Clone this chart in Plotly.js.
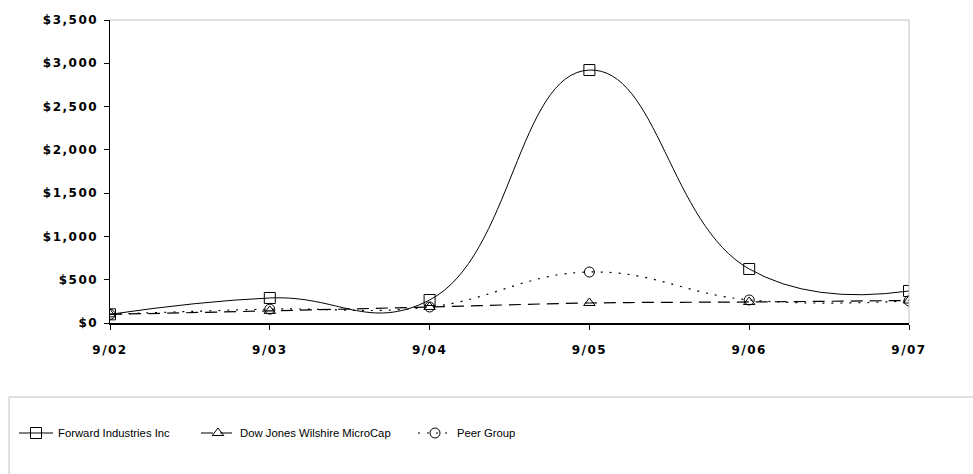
<!DOCTYPE html>
<html>
<head>
<meta charset="utf-8">
<script src="https://cdn.plot.ly/plotly-3.0.1.min.js"></script>
<style>
html,body{margin:0;padding:0;background:#fff;}
#chart{width:973px;height:474px;}
.xtick text,.ytick text{letter-spacing:1.5px;}
</style>
</head>
<body>
<div id="chart"></div>
<script>
const categories = ["9/02", "9/03", "9/04", "9/05", "9/06", "9/07"];
const forwardIndustries = [100, 289, 266, 2922, 624, 370];
const dowJonesWilshire = [100, 140, 185, 231, 243, 260];
const peerGroup = [100, 160, 185, 589, 266, 255];
const yTickValues = [0, 500, 1000, 1500, 2000, 2500, 3000, 3500];
const yTickLabels = ["$0", "$500", "$1,000", "$1,500", "$2,000", "$2,500", "$3,000", "$3,500"];

const traces = [
  {
    name: "Forward Industries Inc",
    legend: "legend",
    x: categories, y: forwardIndustries,
    type: "scatter", mode: "lines+markers",
    line: {color: "#000", width: 1, shape: "spline", smoothing: 1.3},
    marker: {symbol: "square-open", size: 11, color: "#000", line: {color: "#000", width: 1}}
  },
  {
    name: "Dow Jones Wilshire MicroCap",
    legend: "legend2",
    x: categories, y: dowJonesWilshire,
    type: "scatter", mode: "lines+markers",
    line: {color: "#000", width: 1.2, dash: "12px,7px", shape: "spline", smoothing: 1},
    marker: {symbol: "triangle-up-open", size: 10, color: "#000", line: {color: "#000", width: 1}}
  },
  {
    name: "Peer Group",
    legend: "legend3",
    x: categories, y: peerGroup,
    type: "scatter", mode: "lines+markers",
    line: {color: "#000", width: 1.2, dash: "2px,7px", shape: "spline", smoothing: 1.2},
    marker: {symbol: "circle-open", size: 10, color: "#000", line: {color: "#000", width: 1}}
  }
];

const legendFont = {family: "Liberation Sans, Arial, sans-serif", size: 11.3, color: "#000"};
function legendAt(px) {
  return {
    xref: "container", yref: "container",
    x: px / 973, xanchor: "left",
    y: 1 - 433 / 474, yanchor: "middle",
    bgcolor: "rgba(0,0,0,0)", borderwidth: 0,
    font: legendFont, itemwidth: 34
  };
}

const tickFont = {family: "DejaVu Sans", size: 12, weight: "bold", color: "#000"};

const layout = {
  width: 973, height: 474,
  margin: {l: 110, r: 64, t: 20, b: 151, autoexpand: false},
  paper_bgcolor: "#fff", plot_bgcolor: "#fff",
  showlegend: true,
  font: {family: "DejaVu Sans, sans-serif", color: "#000"},
  xaxis: {
    type: "category",
    range: [0, 5],
    showgrid: false, zeroline: false,
    showline: true, linecolor: "#000", linewidth: 1.5,
    ticks: "outside", ticklen: 5, tickcolor: "#000", tickwidth: 1,
    ticklabelstandoff: 10,
    tickfont: tickFont
  },
  yaxis: {
    range: [0, 3500],
    tickmode: "array",
    tickvals: yTickValues,
    ticktext: yTickLabels,
    showgrid: false, zeroline: false,
    showline: true, linecolor: "#000", linewidth: 1.5,
    ticks: "outside", ticklen: 5, tickcolor: "#000", tickwidth: 1,
    ticklabelstandoff: 3,
    tickfont: tickFont
  },
  legend: legendAt(14),
  legend2: legendAt(196),
  legend3: legendAt(413),
  shapes: [
    {type: "line", xref: "paper", yref: "paper", x0: 0, x1: 1, y0: 1, y1: 1, line: {color: "#c0c0c0", width: 1}},
    {type: "line", xref: "paper", yref: "paper", x0: 1, x1: 1, y0: 0, y1: 1, line: {color: "#c0c0c0", width: 1}},
    {type: "rect", xref: "paper", yref: "paper", x0: -0.1264, x1: 1.2, y0: -0.2442, y1: -0.7, line: {color: "#c0c0c0", width: 1}, fillcolor: "rgba(0,0,0,0)"}
  ]
};

Plotly.newPlot("chart", traces, layout, {displayModeBar: false, staticPlot: true});
</script>
</body>
</html>
